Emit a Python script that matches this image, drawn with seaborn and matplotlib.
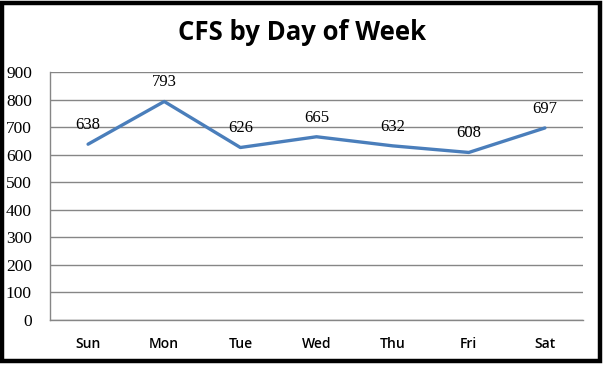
import numpy as np
import pandas as pd
import matplotlib.pyplot as plt
import seaborn as sns
from matplotlib.patches import Rectangle

days = ['Sun', 'Mon', 'Tue', 'Wed', 'Thu', 'Fri', 'Sat']
cfs = [638, 793, 626, 665, 632, 608, 697]
yticks = list(range(0, 1000, 100))

df = pd.DataFrame({'Day': days, 'CFS': cfs})

sns.set_style('white')
plt.rcParams['text.color'] = 'black'
plt.rcParams['xtick.color'] = 'black'
plt.rcParams['ytick.color'] = 'black'

fig = plt.figure(figsize=(6.05, 3.65), dpi=100)
ax = fig.add_axes([50 / 605, 1 - 320 / 365, 533 / 605, 248 / 365])

sns.lineplot(data=df, x='Day', y='CFS', sort=False, color='#4A7EBB', linewidth=2.4, ax=ax)

for i, v in enumerate(cfs):
    ax.annotate(str(v), (i, v), xytext=(0, 8), textcoords='offset points',
                ha='center', va='bottom', fontsize=12, family='Liberation Serif')

ax.set_ylim(0, 900)
ax.set_xlim(-0.5, 6.5)
ax.set_yticks(yticks)
ax.set_yticklabels([str(t) for t in yticks], family='Liberation Serif', fontsize=12.5)
ax.set_xticks(range(len(days)))
ax.set_xticklabels(days, family='Open Sans', fontsize=10, fontweight='semibold')
ax.set_xticks(np.arange(-0.5, 7, 1), minor=True)
ax.tick_params(axis='x', which='major', length=0, pad=12)
ax.tick_params(axis='x', which='minor', length=5, color='#868686', direction='out')
ax.tick_params(axis='y', length=5, color='#868686', labelcolor='black', direction='out', pad=8)
ax.yaxis.grid(True, color='#868686', linewidth=1)
ax.set_axisbelow(True)
for s in ['top', 'right']:
    ax.spines[s].set_visible(False)
for s in ['left', 'bottom']:
    ax.spines[s].set_color('#868686')
    ax.spines[s].set_linewidth(1)
ax.set_xlabel('')
ax.set_ylabel('')

fig.text(0.5, 1 - 33 / 365, 'CFS by Day of Week', ha='center', va='center',
         fontsize=18.5, fontweight='bold', family='Open Sans', color='black')

fig.patches.append(Rectangle((2 / 605, 4 / 365), 598 / 605, 358 / 365, transform=fig.transFigure,
                             fill=False, edgecolor='black', linewidth=3.2))

fig.savefig('out.png', dpi=100)
